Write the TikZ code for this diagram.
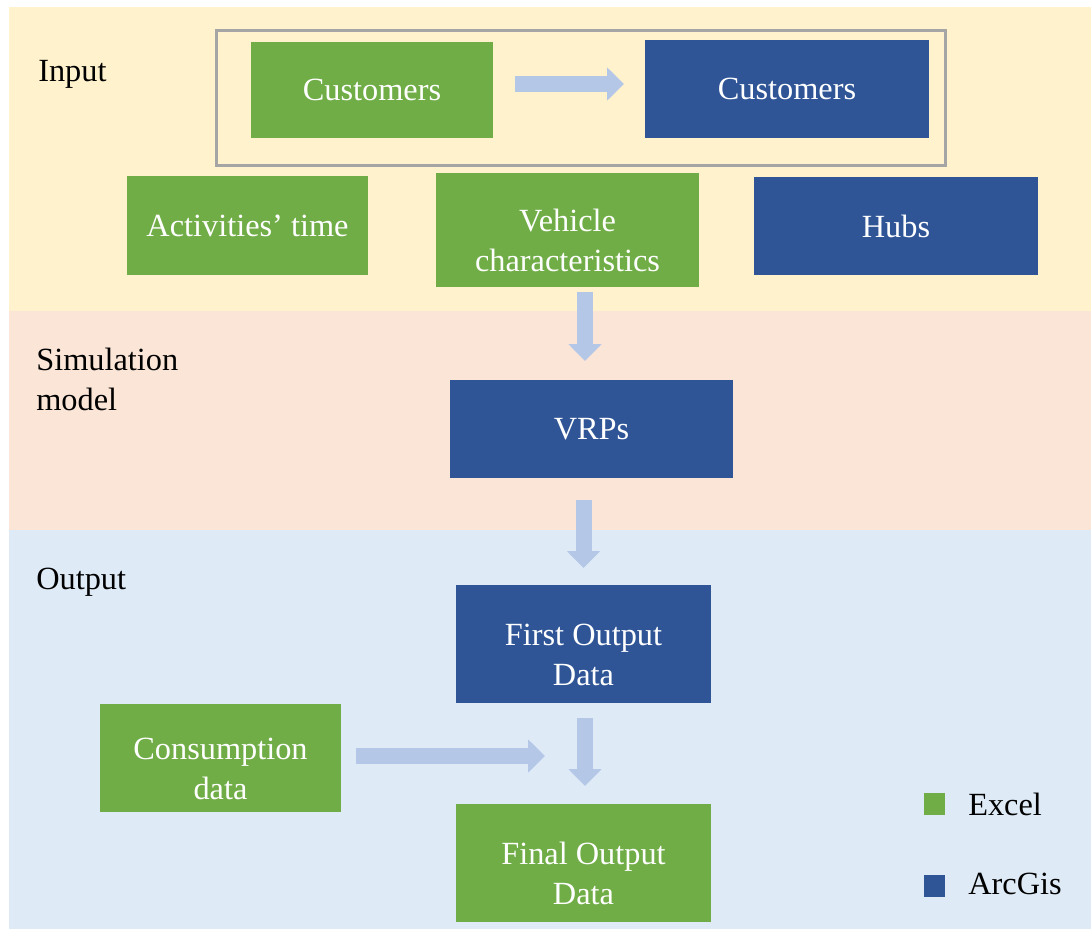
\documentclass[tikz,border=0pt]{standalone}
\usepackage{fontspec}
\setmainfont{Liberation Serif}
\usetikzlibrary{arrows.meta}

\definecolor{xlgreen}{HTML}{70AD47}
\definecolor{agblue}{HTML}{2F5597}
\definecolor{arrowblue}{HTML}{B4C7E7}
\definecolor{bgyellow}{HTML}{FFF2CC}
\definecolor{bgpink}{HTML}{FBE5D6}
\definecolor{bgblue}{HTML}{DEEBF7}
\definecolor{framegray}{HTML}{A5A5A5}

% taller first line, pushes two-line box text down a bit
\newcommand{\toppad}{\rule{0pt}{31pt}}

\begin{document}
\begin{tikzpicture}[x=0.025cm, y=-0.025cm]
		\tikzstyle{every node}=[font=\fontsize{23pt}{28.5pt}\selectfont]
		\tikzstyle{excel}=[fill=xlgreen, text=white, align=center, inner sep=0pt]
		\tikzstyle{arcgis}=[fill=agblue, text=white, align=center, inner sep=0pt]
		\tikzstyle{blockarrow}=[draw=arrowblue, line width=0.4cm, -{Triangle[width=0.8cm, length=0.42cm]}]
		\tikzstyle{stage}=[anchor=west, align=left, inner sep=0pt, text=black]
		
		\useasboundingbox (0,0) rectangle (1091,929);
		
		% stage bands
		\fill[bgyellow] (9,7) rectangle (1091,311);
		\fill[bgpink] (9,311) rectangle (1091,530);
		\fill[bgblue] (9,530) rectangle (1091,929);
		
		\node[stage] (input) at (38,74) {Input};
		\node[stage] (simmodel) at (36,379) {Simulation\\model};
		\node[stage] (output) at (36,582) {Output};
		
		% input
		\draw[framegray, line width=0.075cm] (216,30) rectangle (945,165);
		\node[excel, minimum width=6.05cm, minimum height=2.4cm] (custxl) at (372,90) {Customers};
		\node[arcgis, minimum width=7.1cm, minimum height=2.45cm] (custag) at (787,89) {Customers};
		\node[excel, minimum width=6.025cm, minimum height=2.475cm] (acttime) at (247.5,225.5) {Activities’ time};
		\node[excel, minimum width=6.575cm, minimum height=2.85cm] (vehicle) at (567.5,230) {\toppad Vehicle\\characteristics};
		\node[arcgis, minimum width=7.1cm, minimum height=2.45cm] (hubs) at (896,226) {Hubs};
		
		% simulation
		\node[arcgis, minimum width=7.075cm, minimum height=2.45cm] (vrps) at (591.5,429) {VRPs};
		
		% output
		\node[arcgis, minimum width=6.375cm, minimum height=2.95cm] (firstout) at (583.5,644) {\toppad First Output\\Data};
		\node[excel, minimum width=6.025cm, minimum height=2.7cm] (consump) at (220.5,758) {\toppad Consumption\\data};
		\node[excel, minimum width=6.375cm, minimum height=2.95cm] (finalout) at (583.5,863) {\toppad Final Output\\Data};
		
		% block arrows
		\coordinate (cust-s) at (515,84);
		\coordinate (cust-e) at (624,84);
		\coordinate (veh-s) at (585,292);
		\coordinate (veh-e) at (585,361);
		\coordinate (vrp-s) at (583.5,500);
		\coordinate (vrp-e) at (583.5,568);
		\coordinate (first-s) at (585,718);
		\coordinate (first-e) at (585,786);
		\coordinate (cons-s) at (356,756);
		\coordinate (cons-e) at (545,756);
		
		\draw[blockarrow] (cust-s) -- (cust-e);
		\draw[blockarrow] (veh-s) -- (veh-e);
		\draw[blockarrow] (vrp-s) -- (vrp-e);
		\draw[blockarrow] (first-s) -- (first-e);
		\draw[blockarrow] (cons-s) -- (cons-e);
		
		% legend
		\node[fill=xlgreen, minimum width=0.525cm, minimum height=0.55cm, inner sep=0pt] (keyxl) at (934.5,804) {};
		\node[fill=agblue, minimum width=0.525cm, minimum height=0.55cm, inner sep=0pt] (keyag) at (934.5,886) {};
		\node[stage] (keyxltext) at (968,804) {Excel};
		\node[stage] (keyagtext) at (968,884) {ArcGis};
		
	\end{tikzpicture}
\end{document}
